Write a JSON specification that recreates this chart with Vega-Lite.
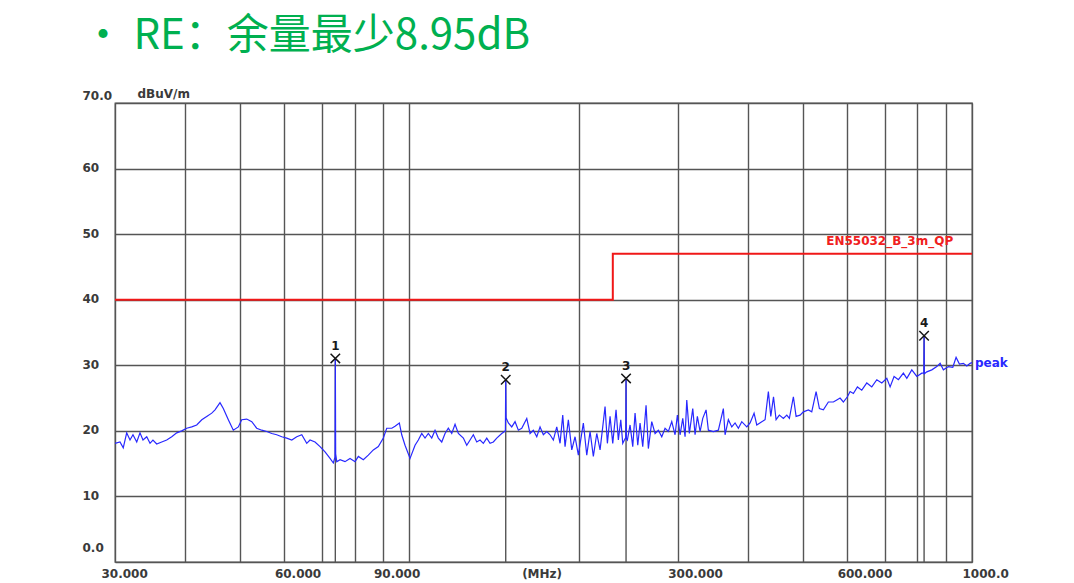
{
  "$schema": "https://vega.github.io/schema/vega-lite/v6.json",
  "width": 857,
  "height": 459,
  "autosize": "none",
  "padding": {"left": 115, "top": 103, "right": 102, "bottom": 21},
  "background": "white",
  "title": {
    "text": "• RE：余量最少8.95dB",
    "anchor": "start",
    "frame": "group",
    "dx": -33,
    "offset": -4,
    "baseline": "alphabetic",
    "font": "Noto Sans CJK SC",
    "fontSize": 42,
    "fontWeight": "normal",
    "color": "#00B050"
  },
  "config": {
    "font": "DejaVu Sans",
    "view": {"stroke": "#5a5a5a", "strokeWidth": 1.3}
  },
  "datasets": {
    "spectrum": [
      {"f":30.00,"v":18.1},{"f":30.62,"v":18.3},{"f":31.03,"v":17.4},{"f":31.47,"v":19.7},{"f":31.90,"v":18.6},
      {"f":32.29,"v":19.4},{"f":32.79,"v":18.3},{"f":33.23,"v":19.7},{"f":33.64,"v":18.6},{"f":34.16,"v":19.1},
      {"f":34.62,"v":18.1},{"f":35.04,"v":18.6},{"f":35.58,"v":18.0},{"f":36.32,"v":18.3},{"f":37.07,"v":18.6},
      {"f":37.84,"v":19.1},{"f":38.62,"v":19.7},{"f":39.42,"v":20.0},{"f":40.23,"v":20.4},{"f":41.07,"v":20.6},
      {"f":41.91,"v":20.9},{"f":42.79,"v":21.7},{"f":43.66,"v":22.2},{"f":44.57,"v":22.7},{"f":45.17,"v":23.2},
      {"f":46.10,"v":24.3},{"f":46.73,"v":23.4},{"f":47.70,"v":21.7},{"f":48.68,"v":20.1},{"f":49.69,"v":20.6},
      {"f":50.38,"v":21.7},{"f":51.43,"v":21.8},{"f":52.50,"v":21.4},{"f":53.57,"v":20.4},{"f":54.69,"v":20.1},
      {"f":55.82,"v":19.9},{"f":56.98,"v":19.6},{"f":58.14,"v":19.4},{"f":59.36,"v":19.1},{"f":60.57,"v":18.9},
      {"f":61.84,"v":18.6},{"f":63.11,"v":19.1},{"f":64.42,"v":19.4},{"f":65.74,"v":18.1},{"f":66.63,"v":18.6},
      {"f":68.01,"v":18.3},{"f":69.42,"v":17.6},{"f":70.85,"v":16.8},{"f":72.32,"v":15.8},{"f":73.30,"v":15.1},
      {"f":73.80,"v":16.0},{"f":73.90,"v":31.05},{"f":74.00,"v":16.5},{"f":74.33,"v":15.3},{"f":75.34,"v":15.6},
      {"f":76.89,"v":15.3},{"f":78.48,"v":15.8},{"f":80.11,"v":15.3},{"f":81.20,"v":16.1},{"f":82.87,"v":15.6},
      {"f":84.58,"v":16.3},{"f":86.33,"v":17.1},{"f":88.12,"v":17.6},{"f":89.94,"v":18.9},{"f":91.20,"v":20.4},
      {"f":93.11,"v":20.4},{"f":94.35,"v":20.7},{"f":96.03,"v":21.2},{"f":96.97,"v":19.4},{"f":98.29,"v":17.8},
      {"f":100.33,"v":15.8},{"f":102.40,"v":17.8},{"f":103.79,"v":18.6},{"f":105.24,"v":19.6},{"f":106.67,"v":18.9},
      {"f":108.12,"v":19.6},{"f":109.64,"v":18.9},{"f":111.13,"v":20.1},{"f":112.64,"v":18.9},{"f":114.22,"v":18.3},
      {"f":115.77,"v":19.6},{"f":117.34,"v":20.4},{"f":118.99,"v":19.6},{"f":120.61,"v":21.0},{"f":122.25,"v":19.6},
      {"f":124.78,"v":18.9},{"f":126.53,"v":17.8},{"f":128.25,"v":18.6},{"f":129.98,"v":19.4},{"f":131.81,"v":18.3},
      {"f":133.60,"v":18.6},{"f":135.41,"v":18.1},{"f":137.31,"v":18.9},{"f":139.18,"v":18.1},{"f":141.07,"v":18.3},
      {"f":143.05,"v":18.9},{"f":146.00,"v":19.6},{"f":148.20,"v":20.0},{"f":148.40,"v":27.8},{"f":148.60,"v":22.0},
      {"f":150.00,"v":21.2},{"f":152.10,"v":20.6},{"f":154.17,"v":21.4},{"f":156.27,"v":20.1},{"f":158.46,"v":20.4},
      {"f":161.74,"v":21.9},{"f":163.93,"v":19.6},{"f":166.15,"v":20.1},{"f":168.50,"v":19.1},{"f":170.78,"v":20.6},
      {"f":173.10,"v":19.4},{"f":175.53,"v":19.9},{"f":177.92,"v":19.4},{"f":180.32,"v":18.6},{"f":182.86,"v":20.6},
      {"f":185.35,"v":18.1},{"f":187.39,"v":22.4},{"f":189.17,"v":17.6},{"f":191.74,"v":21.7},{"f":194.44,"v":17.1},
      {"f":197.08,"v":19.1},{"f":199.76,"v":16.3},{"f":203.88,"v":21.2},{"f":206.75,"v":16.3},{"f":209.56,"v":19.9},
      {"f":212.39,"v":16.1},{"f":215.38,"v":19.6},{"f":218.31,"v":17.1},{"f":220.72,"v":20.6},{"f":222.82,"v":23.7},
      {"f":224.94,"v":18.1},{"f":227.43,"v":22.2},{"f":229.94,"v":18.1},{"f":233.07,"v":23.2},{"f":235.28,"v":18.6},
      {"f":237.62,"v":21.7},{"f":239.54,"v":18.1},{"f":242.50,"v":19.0},{"f":242.80,"v":28.0},{"f":243.10,"v":18.8},
      {"f":244.12,"v":18.6},{"f":246.83,"v":20.9},{"f":249.55,"v":17.6},{"f":251.92,"v":22.7},{"f":254.72,"v":17.8},
      {"f":257.13,"v":21.2},{"f":259.97,"v":17.6},{"f":263.52,"v":23.9},{"f":266.01,"v":17.3},{"f":269.73,"v":21.4},
      {"f":273.40,"v":19.6},{"f":277.12,"v":20.1},{"f":281.00,"v":19.1},{"f":284.82,"v":20.4},{"f":288.69,"v":19.9},
      {"f":292.74,"v":21.4},{"f":296.72,"v":19.4},{"f":299.54,"v":22.4},{"f":302.86,"v":19.4},{"f":306.21,"v":21.9},
      {"f":309.12,"v":19.1},{"f":311.28,"v":24.7},{"f":314.59,"v":19.6},{"f":319.00,"v":23.4},{"f":322.03,"v":19.4},
      {"f":325.09,"v":22.2},{"f":328.70,"v":19.9},{"f":332.32,"v":21.9},{"f":336.86,"v":23.2},{"f":340.04,"v":20.1},
      {"f":347.06,"v":19.9},{"f":354.24,"v":20.1},{"f":361.56,"v":23.4},{"f":364.09,"v":19.4},{"f":369.04,"v":21.7},
      {"f":374.21,"v":20.6},{"f":379.30,"v":21.2},{"f":384.46,"v":20.4},{"f":389.84,"v":21.4},{"f":397.91,"v":20.6},
      {"f":403.32,"v":21.2},{"f":409.97,"v":22.7},{"f":414.53,"v":20.9},{"f":423.09,"v":21.4},{"f":428.84,"v":21.7},
      {"f":434.67,"v":26.0},{"f":438.99,"v":22.2},{"f":443.90,"v":25.2},{"f":448.59,"v":21.7},{"f":454.67,"v":22.4},
      {"f":462.20,"v":21.9},{"f":468.68,"v":22.4},{"f":473.70,"v":21.9},{"f":481.50,"v":25.2},{"f":486.85,"v":22.2},
      {"f":494.90,"v":22.4},{"f":501.60,"v":22.9},{"f":512.00,"v":23.2},{"f":519.10,"v":22.9},{"f":528.40,"v":26.0},
      {"f":535.60,"v":23.4},{"f":544.40,"v":23.2},{"f":555.60,"v":24.4},{"f":567.10,"v":24.4},{"f":575.10,"v":24.7},
      {"f":582.90,"v":25.0},{"f":590.80,"v":24.4},{"f":600.60,"v":25.2},{"f":607.30,"v":26.0},{"f":615.50,"v":25.7},
      {"f":625.70,"v":26.7},{"f":637.00,"v":26.2},{"f":650.20,"v":27.3},{"f":663.60,"v":26.7},{"f":677.40,"v":27.8},
      {"f":691.40,"v":27.3},{"f":705.70,"v":28.0},{"f":715.30,"v":26.7},{"f":727.00,"v":28.3},{"f":740.00,"v":27.8},
      {"f":755.20,"v":28.8},{"f":765.90,"v":28.0},{"f":781.70,"v":29.3},{"f":797.90,"v":28.3},{"f":814.30,"v":28.8},
      {"f":821.00,"v":28.8},{"f":822.00,"v":34.5},{"f":823.00,"v":28.7},{"f":831.20,"v":29.0},{"f":848.30,"v":29.3},
      {"f":865.90,"v":29.8},{"f":877.70,"v":30.3},{"f":889.50,"v":29.3},{"f":908.00,"v":29.8},{"f":924.40,"v":29.7},
      {"f":937.00,"v":31.2},{"f":949.80,"v":30.2},{"f":965.40,"v":30.3},{"f":979.00,"v":29.9},{"f":992.30,"v":30.3},
      {"f":1000,"v":30.4}
    ],
    "limit": [
      {"f": 30, "v": 40},
      {"f": 230, "v": 47},
      {"f": 1000, "v": 47}
    ],
    "markers": [
      {"f": 73.9, "v": 31.05, "n": "1"},
      {"f": 148.4, "v": 27.8, "n": "2"},
      {"f": 242.8, "v": 28.0, "n": "3"},
      {"f": 822, "v": 34.5, "n": "4"}
    ],
    "limitLabel": [
      {"f": 926, "v": 47, "t": "EN55032_B_3m_QP"}
    ],
    "traceLabel": [
      {"f": 1000, "v": 30.3, "t": "peak"}
    ]
  },
  "encoding": {
    "x": {
      "field": "f",
      "type": "quantitative",
      "scale": {"type": "log", "domain": [30, 1000], "nice": false},
      "axis": {
        "title": null,
        "values": [30, 40, 50, 60, 70, 80, 90, 100, 165, 200, 300, 400, 500, 600, 700, 800, 900, 1000],
        "labelExpr": "datum.value == 30 ? '30.000' : datum.value == 60 ? '60.000' : datum.value == 90 ? '90.000' : datum.value == 165 ? '(MHz)' : datum.value == 300 ? '300.000' : datum.value == 600 ? '600.000' : datum.value == 1000 ? '1000.0' : ''",
        "ticks": false,
        "domain": false,
        "grid": true,
        "gridColor": "#555555",
        "gridWidth": 1.4,
        "gridOpacity": {"condition": {"test": "datum.value == 165", "value": 0}, "value": 1},
        "labelAlign": "left",
        "labelOffset": {"condition": {"test": "datum.value == 30", "value": -14}, "value": -10},
        "labelPadding": 6,
        "labelBaseline": "top",
        "labelAngle": 0,
        "labelFont": "DejaVu Sans",
        "labelFontSize": 12,
        "labelFontWeight": "bold",
        "labelColor": "#3a3a3a",
        "labelFlush": false,
        "labelOverlap": false,
        "labelBound": false
      }
    },
    "y": {
      "field": "v",
      "type": "quantitative",
      "scale": {"domain": [0, 70], "nice": false, "zero": false},
      "axis": {
        "title": "dBuV/m",
        "titleAngle": 0,
        "titleX": 22,
        "titleY": -6,
        "titleAlign": "left",
        "titleBaseline": "alphabetic",
        "titleFont": "DejaVu Sans",
        "titleFontSize": 12,
        "titleFontWeight": "bold",
        "titleColor": "#3a3a3a",
        "values": [0, 10, 20, 30, 40, 50, 60, 70],
        "labelExpr": "datum.value == 70 ? '70.0' : datum.value == 0 ? ' 0.0' : datum.label",
        "ticks": false,
        "domain": false,
        "grid": true,
        "gridColor": "#555555",
        "gridWidth": 1.4,
        "labelAlign": "left",
        "labelBaseline": "middle",
        "labelPadding": 33,
        "labelOffset": {"condition": [{"test": "datum.value == 70", "value": -8}, {"test": "datum.value == 0", "value": -14.5}], "value": -1},
        "labelFont": "DejaVu Sans",
        "labelFontSize": 12,
        "labelFontWeight": "bold",
        "labelColor": "#3a3a3a",
        "labelFlush": false,
        "labelOverlap": false,
        "labelBound": false
      }
    }
  },
  "layer": [
    {
      "data": {"name": "markers"},
      "mark": {"type": "rule", "color": "#555555", "strokeWidth": 1.4},
      "encoding": {"y2": {"datum": 0}}
    },
    {
      "data": {"name": "limit"},
      "mark": {"type": "line", "interpolate": "step-after", "color": "#f01818", "strokeWidth": 2},
      "encoding": {}
    },
    {
      "data": {"name": "spectrum"},
      "mark": {"type": "line", "color": "#2828ff", "strokeWidth": 1.2},
      "encoding": {}
    },
    {
      "data": {"name": "markers"},
      "mark": {"type": "point", "shape": "M-1,-1L1,1M1,-1L-1,1", "filled": false, "stroke": "#151515", "strokeWidth": 1.5, "size": 90, "opacity": 1},
      "encoding": {}
    },
    {
      "data": {"name": "markers"},
      "mark": {"type": "text", "font": "DejaVu Sans", "fontSize": 12, "fontWeight": "bold", "color": "#1a1a1a", "baseline": "alphabetic", "align": "center", "dy": -8.5},
      "encoding": {"text": {"field": "n"}}
    },
    {
      "data": {"name": "limitLabel"},
      "mark": {"type": "text", "font": "DejaVu Sans", "fontSize": 12, "fontWeight": "bold", "color": "#f02020", "baseline": "alphabetic", "align": "right", "dy": -9},
      "encoding": {"text": {"field": "t"}}
    },
    {
      "data": {"name": "traceLabel"},
      "mark": {"type": "text", "font": "DejaVu Sans", "fontSize": 12, "fontWeight": "bold", "color": "#2828ff", "baseline": "middle", "align": "left", "dx": 3},
      "encoding": {"text": {"field": "t"}}
    }
  ]
}
